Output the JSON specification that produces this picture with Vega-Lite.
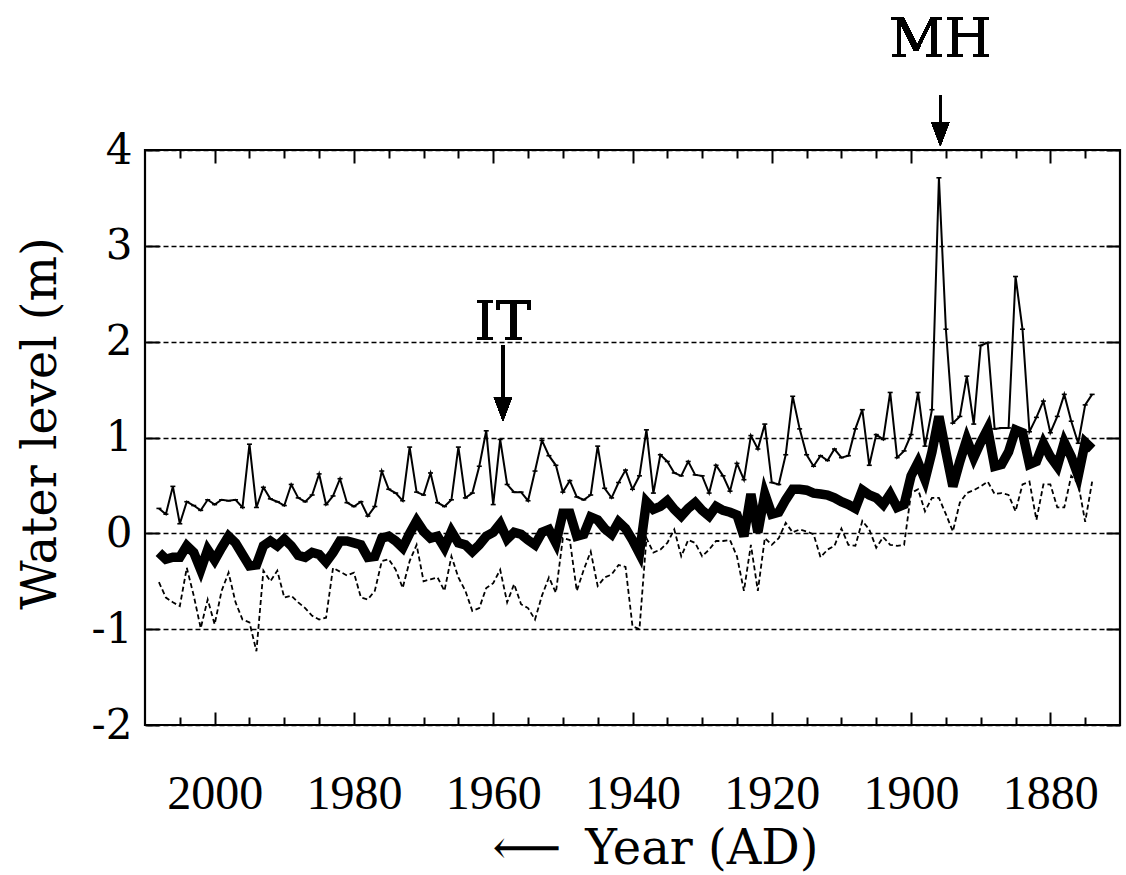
{
  "$schema": "https://vega.github.io/schema/vega-lite/v6.json",
  "width": 975,
  "height": 575,
  "autosize": {"type": "none"},
  "padding": {"left": 145, "top": 150, "right": 6, "bottom": 150},
  "background": "white",
  "config": {"view": {"stroke": "black", "strokeWidth": 2.2}, "font": "DejaVu Serif"},
  "data": {"values": [
    {"year":2008,"max":0.26,"mean":-0.20,"min":-0.51},
    {"year":2007,"max":0.20,"mean":-0.27,"min":-0.67},
    {"year":2006,"max":0.49,"mean":-0.25,"min":-0.72},
    {"year":2005,"max":0.10,"mean":-0.25,"min":-0.76},
    {"year":2004,"max":0.33,"mean":-0.13,"min":-0.36},
    {"year":2003,"max":0.29,"mean":-0.20,"min":-0.65},
    {"year":2002,"max":0.24,"mean":-0.38,"min":-0.99},
    {"year":2001,"max":0.35,"mean":-0.17,"min":-0.69},
    {"year":2000,"max":0.30,"mean":-0.28,"min":-0.95},
    {"year":1999,"max":0.35,"mean":-0.15,"min":-0.60},
    {"year":1998,"max":0.34,"mean":-0.03,"min":-0.41},
    {"year":1997,"max":0.35,"mean":-0.10,"min":-0.72},
    {"year":1996,"max":0.27,"mean":-0.22,"min":-0.90},
    {"year":1995,"max":0.93,"mean":-0.34,"min":-0.93},
    {"year":1994,"max":0.27,"mean":-0.33,"min":-1.23},
    {"year":1993,"max":0.48,"mean":-0.13,"min":-0.39},
    {"year":1992,"max":0.36,"mean":-0.08,"min":-0.50},
    {"year":1991,"max":0.33,"mean":-0.13,"min":-0.39},
    {"year":1990,"max":0.29,"mean":-0.06,"min":-0.67},
    {"year":1989,"max":0.51,"mean":-0.13,"min":-0.65},
    {"year":1988,"max":0.37,"mean":-0.23,"min":-0.72},
    {"year":1987,"max":0.33,"mean":-0.25,"min":-0.78},
    {"year":1986,"max":0.40,"mean":-0.20,"min":-0.86},
    {"year":1985,"max":0.62,"mean":-0.22,"min":-0.90},
    {"year":1984,"max":0.30,"mean":-0.30,"min":-0.88},
    {"year":1983,"max":0.39,"mean":-0.20,"min":-0.36},
    {"year":1982,"max":0.57,"mean":-0.08,"min":-0.40},
    {"year":1981,"max":0.32,"mean":-0.08,"min":-0.44},
    {"year":1980,"max":0.28,"mean":-0.10,"min":-0.41},
    {"year":1979,"max":0.33,"mean":-0.12,"min":-0.67},
    {"year":1978,"max":0.18,"mean":-0.25,"min":-0.69},
    {"year":1977,"max":0.28,"mean":-0.24,"min":-0.60},
    {"year":1976,"max":0.65,"mean":-0.05,"min":-0.29},
    {"year":1975,"max":0.46,"mean":-0.03,"min":-0.27},
    {"year":1974,"max":0.42,"mean":-0.08,"min":-0.38},
    {"year":1973,"max":0.34,"mean":-0.15,"min":-0.57},
    {"year":1972,"max":0.90,"mean":0.00,"min":-0.29},
    {"year":1971,"max":0.43,"mean":0.13,"min":-0.12},
    {"year":1970,"max":0.40,"mean":0.02,"min":-0.50},
    {"year":1969,"max":0.63,"mean":-0.05,"min":-0.48},
    {"year":1968,"max":0.32,"mean":-0.03,"min":-0.46},
    {"year":1967,"max":0.28,"mean":-0.15,"min":-0.60},
    {"year":1966,"max":0.35,"mean":0.02,"min":-0.24},
    {"year":1965,"max":0.90,"mean":-0.10,"min":-0.46},
    {"year":1964,"max":0.37,"mean":-0.12,"min":-0.60},
    {"year":1963,"max":0.42,"mean":-0.19,"min":-0.81},
    {"year":1962,"max":0.70,"mean":-0.12,"min":-0.78},
    {"year":1961,"max":1.07,"mean":-0.03,"min":-0.57},
    {"year":1960,"max":0.30,"mean":0.01,"min":-0.52},
    {"year":1959,"max":0.98,"mean":0.10,"min":-0.38},
    {"year":1958,"max":0.51,"mean":-0.06,"min":-0.72},
    {"year":1957,"max":0.43,"mean":0.01,"min":-0.53},
    {"year":1956,"max":0.43,"mean":-0.01,"min":-0.74},
    {"year":1955,"max":0.34,"mean":-0.07,"min":-0.78},
    {"year":1954,"max":0.65,"mean":-0.12,"min":-0.90},
    {"year":1953,"max":0.97,"mean":0.01,"min":-0.65},
    {"year":1952,"max":0.81,"mean":0.04,"min":-0.46},
    {"year":1951,"max":0.71,"mean":-0.10,"min":-0.62},
    {"year":1950,"max":0.43,"mean":0.21,"min":-0.05},
    {"year":1949,"max":0.55,"mean":0.21,"min":-0.07},
    {"year":1948,"max":0.38,"mean":-0.03,"min":-0.60},
    {"year":1947,"max":0.35,"mean":-0.01,"min":-0.38},
    {"year":1946,"max":0.40,"mean":0.17,"min":-0.19},
    {"year":1945,"max":0.91,"mean":0.14,"min":-0.55},
    {"year":1944,"max":0.47,"mean":0.05,"min":-0.46},
    {"year":1943,"max":0.37,"mean":-0.01,"min":-0.43},
    {"year":1942,"max":0.53,"mean":0.12,"min":-0.33},
    {"year":1941,"max":0.66,"mean":0.05,"min":-0.35},
    {"year":1940,"max":0.46,"mean":-0.07,"min":-0.97},
    {"year":1939,"max":0.60,"mean":-0.21,"min":-1.00},
    {"year":1938,"max":1.08,"mean":0.33,"min":-0.05},
    {"year":1937,"max":0.42,"mean":0.25,"min":-0.20},
    {"year":1936,"max":0.82,"mean":0.28,"min":-0.17},
    {"year":1935,"max":0.75,"mean":0.34,"min":-0.10},
    {"year":1934,"max":0.63,"mean":0.25,"min":0.04},
    {"year":1933,"max":0.60,"mean":0.18,"min":-0.24},
    {"year":1932,"max":0.75,"mean":0.26,"min":-0.07},
    {"year":1931,"max":0.61,"mean":0.32,"min":-0.10},
    {"year":1930,"max":0.60,"mean":0.24,"min":-0.24},
    {"year":1929,"max":0.42,"mean":0.18,"min":-0.17},
    {"year":1928,"max":0.71,"mean":0.28,"min":-0.08},
    {"year":1927,"max":0.60,"mean":0.24,"min":-0.08},
    {"year":1926,"max":0.44,"mean":0.22,"min":-0.07},
    {"year":1925,"max":0.73,"mean":0.19,"min":-0.24},
    {"year":1924,"max":0.56,"mean":-0.03,"min":-0.60},
    {"year":1923,"max":1.02,"mean":0.41,"min":-0.12},
    {"year":1922,"max":0.88,"mean":0.01,"min":-0.60},
    {"year":1921,"max":1.14,"mean":0.41,"min":-0.05},
    {"year":1920,"max":0.53,"mean":0.20,"min":-0.12},
    {"year":1919,"max":0.51,"mean":0.22,"min":-0.05},
    {"year":1918,"max":0.82,"mean":0.35,"min":0.11},
    {"year":1917,"max":1.43,"mean":0.46,"min":0.01},
    {"year":1916,"max":1.09,"mean":0.46,"min":0.04},
    {"year":1915,"max":0.82,"mean":0.45,"min":0.02},
    {"year":1914,"max":0.70,"mean":0.42,"min":-0.01},
    {"year":1913,"max":0.81,"mean":0.41,"min":-0.25},
    {"year":1912,"max":0.76,"mean":0.40,"min":-0.17},
    {"year":1911,"max":0.88,"mean":0.37,"min":-0.13},
    {"year":1910,"max":0.79,"mean":0.33,"min":0.05},
    {"year":1909,"max":0.81,"mean":0.30,"min":-0.12},
    {"year":1908,"max":1.09,"mean":0.26,"min":-0.13},
    {"year":1907,"max":1.29,"mean":0.45,"min":0.13},
    {"year":1906,"max":0.71,"mean":0.40,"min":0.04},
    {"year":1905,"max":1.03,"mean":0.37,"min":-0.15},
    {"year":1904,"max":0.98,"mean":0.30,"min":-0.04},
    {"year":1903,"max":1.47,"mean":0.41,"min":-0.12},
    {"year":1902,"max":0.79,"mean":0.27,"min":-0.13},
    {"year":1901,"max":0.86,"mean":0.30,"min":-0.12},
    {"year":1900,"max":1.03,"mean":0.60,"min":0.42},
    {"year":1899,"max":1.47,"mean":0.74,"min":0.46},
    {"year":1898,"max":0.91,"mean":0.56,"min":0.23},
    {"year":1897,"max":1.29,"mean":0.85,"min":0.37},
    {"year":1896,"max":3.71,"mean":1.22,"min":0.37},
    {"year":1895,"max":2.13,"mean":0.85,"min":0.20},
    {"year":1894,"max":1.15,"mean":0.49,"min":0.02},
    {"year":1893,"max":1.22,"mean":0.75,"min":0.32},
    {"year":1892,"max":1.64,"mean":0.98,"min":0.42},
    {"year":1891,"max":1.14,"mean":0.79,"min":0.45},
    {"year":1890,"max":1.96,"mean":0.95,"min":0.49},
    {"year":1889,"max":1.99,"mean":1.09,"min":0.54},
    {"year":1888,"max":1.09,"mean":0.70,"min":0.41},
    {"year":1887,"max":1.10,"mean":0.72,"min":0.42},
    {"year":1886,"max":1.10,"mean":0.85,"min":0.40},
    {"year":1885,"max":2.68,"mean":1.08,"min":0.23},
    {"year":1884,"max":2.13,"mean":1.05,"min":0.51},
    {"year":1883,"max":1.06,"mean":0.72,"min":0.54},
    {"year":1882,"max":1.21,"mean":0.75,"min":0.14},
    {"year":1881,"max":1.38,"mean":0.94,"min":0.51},
    {"year":1880,"max":1.05,"mean":0.80,"min":0.51},
    {"year":1879,"max":1.22,"mean":0.70,"min":0.27},
    {"year":1878,"max":1.45,"mean":0.95,"min":0.27},
    {"year":1877,"max":1.17,"mean":0.80,"min":0.60},
    {"year":1876,"max":0.94,"mean":0.60,"min":0.52},
    {"year":1875,"max":1.34,"mean":0.95,"min":0.12},
    {"year":1874,"max":1.45,"mean":0.88,"min":0.54}
  ]},
  "layer": [
    {
      "mark": {"type": "line", "color": "black", "strokeWidth": 2},
      "encoding": {
        "x": {"field": "year", "type": "quantitative",
          "scale": {"domain": [1870, 2010], "reverse": true, "nice": false, "zero": false},
          "axis": {"orient": "bottom",
            "values": [2005,2000,1995,1990,1985,1980,1975,1970,1965,1960,1955,1950,1945,1940,1935,1930,1925,1920,1915,1910,1905,1900,1895,1890,1885,1880,1875],
            "format": "d",
            "labelExpr": "datum.value % 20 === 0 ? datum.label : ''",
            "domain": false, "grid": false,
            "tickColor": "black", "tickWidth": 2,
            "tickSize": {"condition": {"test": "datum.value % 20 === 0", "value": -13}, "value": -8},
            "labelFont": "Liberation Serif", "labelFontSize": 48, "labelColor": "black",
            "labelPadding": 58, "labelBaseline": "top", "labelFlush": false, "labelOverlap": false,
            "title": "⟵\u2002Year (AD)", "titleFont": "DejaVu Serif", "titleFontSize": 48,
            "titleFontWeight": "normal", "titleColor": "black",
            "titleX": 510, "titleY": 138, "titleBaseline": "alphabetic", "titleAlign": "center"}},
        "y": {"field": "max", "type": "quantitative",
          "scale": {"domain": [-2, 4], "nice": false, "zero": false},
          "axis": {"orient": "left", "values": [-2,-1,0,1,2,3,4],
            "domain": false, "grid": true, "gridDash": [5,3], "gridColor": "black", "gridWidth": 1.4, "gridOpacity": 1,
            "tickColor": "black", "tickWidth": 2, "tickSize": -14,
            "labelExpr": "datum.value < 0 ? '-' + (-datum.value) : '' + datum.value",
            "labelFont": "DejaVu Serif", "labelFontSize": 42, "labelColor": "black", "labelPadding": 27,
            "title": "Water level (m)", "titleFont": "DejaVu Serif", "titleFontSize": 48,
            "titleFontWeight": "normal", "titleColor": "black",
            "titleX": -90, "titleY": 273, "titleAngle": -90, "titleBaseline": "alphabetic", "titleAlign": "center"}}
      }
    },
    {
      "mark": {"type": "tick", "orient": "horizontal", "size": 5, "thickness": 1.6, "color": "black", "opacity": 1},
      "encoding": {
        "x": {"field": "year", "type": "quantitative", "axis": null},
        "y": {"field": "max", "type": "quantitative", "axis": null}
      }
    },
    {
      "mark": {"type": "line", "color": "black", "strokeWidth": 1.8, "strokeDash": [5, 3]},
      "encoding": {
        "x": {"field": "year", "type": "quantitative", "axis": null},
        "y": {"field": "min", "type": "quantitative", "axis": null}
      }
    },
    {
      "mark": {"type": "line", "color": "black", "strokeWidth": 9.5},
      "encoding": {
        "x": {"field": "year", "type": "quantitative",
          "axis": {"orient": "top",
            "values": [2005,2000,1995,1990,1985,1980,1975,1970,1965,1960,1955,1950,1945,1940,1935,1930,1925,1920,1915,1910,1905,1900,1895,1890,1885,1880,1875],
            "labels": false, "domain": false, "grid": false, "title": null,
            "tickColor": "black", "tickWidth": 2,
            "tickSize": {"condition": {"test": "datum.value % 20 === 0", "value": -13}, "value": -8}}},
        "y": {"field": "mean", "type": "quantitative",
          "axis": {"orient": "right", "values": [-2,-1,0,1,2,3,4],
            "labels": false, "domain": false, "grid": false, "title": null,
            "tickColor": "black", "tickWidth": 2, "tickSize": -14}}
      }
    },
    {
      "mark": {"type": "text", "text": "MH", "font": "DejaVu Serif", "fontSize": 54, "align": "center", "baseline": "alphabetic", "color": "black"},
      "encoding": {
        "x": {"datum": 1895.8, "type": "quantitative", "axis": null},
        "y": {"datum": 4.97, "type": "quantitative", "axis": null}
      }
    },
    {
      "mark": {"type": "rule", "color": "black", "strokeWidth": 2.2},
      "encoding": {
        "x": {"datum": 1895.8, "type": "quantitative", "axis": null},
        "y": {"datum": 4.574, "type": "quantitative", "axis": null},
        "y2": {"datum": 4.2}
      }
    },
    {
      "mark": {"type": "point", "shape": "M-0.75,-1L0.75,-1L0,1Z", "filled": true, "size": 576, "color": "black", "opacity": 1, "strokeWidth": 0},
      "encoding": {
        "x": {"datum": 1895.8, "type": "quantitative", "axis": null},
        "y": {"datum": 4.167, "type": "quantitative", "axis": null}
      }
    },
    {
      "mark": {"type": "text", "text": "IT", "font": "DejaVu Serif", "fontSize": 54, "align": "center", "baseline": "alphabetic", "color": "black"},
      "encoding": {
        "x": {"datum": 1958.6, "type": "quantitative", "axis": null},
        "y": {"datum": 2.017, "type": "quantitative", "axis": null}
      }
    },
    {
      "mark": {"type": "rule", "color": "black", "strokeWidth": 2.2},
      "encoding": {
        "x": {"datum": 1958.6, "type": "quantitative", "axis": null},
        "y": {"datum": 1.965, "type": "quantitative", "axis": null},
        "y2": {"datum": 1.35}
      }
    },
    {
      "mark": {"type": "point", "shape": "M-0.75,-1L0.75,-1L0,1Z", "filled": true, "size": 576, "color": "black", "opacity": 1, "strokeWidth": 0},
      "encoding": {
        "x": {"datum": 1958.6, "type": "quantitative", "axis": null},
        "y": {"datum": 1.297, "type": "quantitative", "axis": null}
      }
    }
  ],
  "resolve": {"axis": {"x": "independent", "y": "independent"}}
}
